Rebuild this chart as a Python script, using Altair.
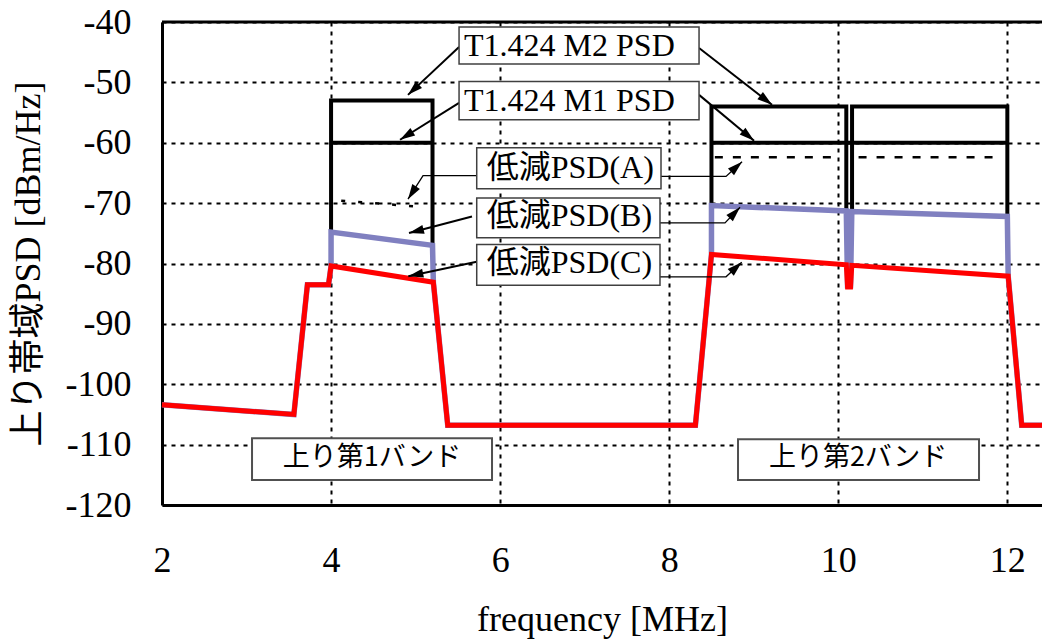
import math
import altair as alt
import pandas as pd

# ---------------- data ----------------
x_ticks = [2, 4, 6, 8, 10, 12]
y_ticks = [-120, -110, -100, -90, -80, -70, -60, -50, -40]

# 低減PSD(C)  (red)
c_freq = [2.0, 3.56, 3.72, 3.97, 4.0, 5.21, 5.38, 8.31, 8.5, 10.095, 10.11, 10.145, 10.16, 12.01, 12.17, 12.41]
c_psd = [-103.4, -105.0, -83.5, -83.5, -80.4, -83.1, -106.8, -106.8, -78.5, -80.2, -83.9, -83.9, -80.3, -82.1, -106.8, -106.8]

# 低減PSD(B)  (blue)
b_freq = [2.0, 3.56, 3.72, 3.97, 4.0, 4.0, 5.2, 5.21, 5.38, 8.31, 8.5, 8.5, 10.095, 10.11, 10.145, 10.16, 12.0, 12.01, 12.17, 12.41]
b_psd = [-103.4, -105.0, -83.5, -83.5, -80.4, -74.8, -77.0, -83.1, -106.8, -106.8, -78.5, -70.4, -71.3, -83.7, -83.7, -71.4, -72.2, -82.1, -106.8, -106.8]

# T1.424 M2 PSD (black)
m2_freq = [4.0, 4.0, 5.2, 5.2, 8.5, 8.5, 10.095, 10.095, 10.163, 10.163, 12.0, 12.0]
m2_psd = [-74.8, -53.0, -53.0, -77.0, -70.4, -54.0, -54.0, -71.3, -71.4, -54.0, -54.0, -72.2]
m2_seg = [0, 0, 0, 0, 1, 1, 1, 1, 2, 2, 2, 2]

# T1.424 M1 PSD (black)
m1_freq = [4.0, 5.2, 8.5, 12.0]
m1_psd = [-60.0, -60.0, -60.0, -60.0]
m1_seg = [0, 0, 1, 1]

# 低減PSD(A) (black dashed)
a1_freq = [4.12, 5.05]
a1_psd = [-69.6, -70.6]
a2_freq = [8.54, 9.94, 10.24, 11.86]
a2_psd = [-62.4, -62.4, -62.4, -62.4]
a2_seg = [0, 0, 1, 1]

# ---------------- layout ----------------
F_MIN, F_MAX = 2.0, 12.41
V_MIN, V_MAX = -120.0, -40.0
W, H = 880, 483
PX_F = W / (F_MAX - F_MIN)
PX_V = H / (V_MAX - V_MIN)

SERIF = "Liberation Serif, Noto Sans CJK JP"
SANS = "Noto Sans CJK JP"

# annotation geometry (in data units)
boxes = pd.DataFrame([
    dict(f=5.514, f2=8.353, v=-40.83, v2=-46.94),
    dict(f=5.514, f2=8.353, v=-49.87, v2=-56.20),
    dict(f=5.723, f2=7.903, v=-60.83, v2=-67.60),
    dict(f=5.723, f2=7.891, v=-69.14, v2=-75.75),
    dict(f=5.723, f2=7.891, v=-76.86, v2=-83.59),
])
band_boxes = pd.DataFrame([
    dict(f=3.065, f2=5.904, v=-108.93, v2=-115.87),
    dict(f=8.814, f2=11.665, v=-109.09, v2=-115.87),
])
labels = pd.DataFrame([
    dict(f=5.573, v=-45.62, label="T1.424 M2 PSD"),
    dict(f=5.573, v=-54.66, label="T1.424 M1 PSD"),
    dict(f=5.841, v=-65.84, label="低減PSD(A)"),
    dict(f=5.841, v=-73.83, label="低減PSD(B)"),
    dict(f=5.841, v=-81.65, label="低減PSD(C)"),
])
band_labels = pd.DataFrame([
    dict(f=4.484, v=-113.6, label="上り第1バンド"),
    dict(f=10.234, v=-113.6, label="上り第2バンド"),
])

arrows = [
    ("m2L", [(5.514, -44.13), (4.910, -52.07)], "thick"),
    ("m2R", [(8.353, -44.30), (9.216, -53.72)], "thick"),
    ("m1L", [(5.514, -53.39), (4.816, -59.50)], "thick"),
    ("m1R", [(8.353, -52.07), (9.004, -59.67)], "thick"),
    ("aL", [(5.727, -65.45), (5.088, -65.45), (4.910, -69.34)], "thin"),
    ("aR", [(7.903, -65.57), (8.672, -65.57), (8.862, -63.14)], "thin"),
    ("bL", [(5.667, -72.23), (4.922, -74.96)], "thick"),
    ("bR", [(7.891, -73.27), (8.660, -73.27), (8.838, -70.69)], "thin"),
    ("cL", [(5.723, -79.72), (4.914, -82.10)], "thick"),
    ("cR", [(7.891, -82.20), (8.672, -82.20), (8.858, -79.79)], "thin"),
]

arrow_rows, head_rows = [], []
HEAD_HALF = 7.5
for name, pts, w in arrows:
    for i, (f, v) in enumerate(pts):
        arrow_rows.append(dict(seg=name, i=i, f=f, v=v, w=w))
    (f0, v0), (f1, v1) = pts[-2], pts[-1]
    dx = (f1 - f0) * PX_F
    dy = -(v1 - v0) * PX_V
    n = math.hypot(dx, dy)
    ux, uy = dx / n, dy / n
    ang = math.degrees(math.atan2(ux, -uy)) % 360
    head_rows.append(dict(
        f=f1 - HEAD_HALF * ux / PX_F,
        v=v1 + HEAD_HALF * uy / PX_V,
        ang=ang,
    ))
arrow_df = pd.DataFrame(arrow_rows)
head_df = pd.DataFrame(head_rows)


def frame(fs, vs, segs=None):
    return pd.DataFrame({"f": fs, "v": vs,
                         "seg": segs if segs is not None else [0] * len(fs),
                         "i": list(range(len(fs)))})


x_enc = alt.X("f:Q",
              scale=alt.Scale(domain=[F_MIN, F_MAX], nice=False, zero=False),
              axis=alt.Axis(values=x_ticks, title="frequency [MHz]",
                            labelPadding=38, titlePadding=24, labelFlush=False,
                            labelExpr="'' + datum.value"))
y_enc = alt.Y("v:Q",
              scale=alt.Scale(domain=[V_MIN, V_MAX], nice=False, zero=False),
              axis=alt.Axis(values=y_ticks, title="上り帯域PSD [dBm/Hz]",
                            labelPadding=31, titlePadding=18, labelFlush=False,
                            labelExpr="'' + datum.value"))


def line_layer(df, color, width, dash=None):
    kw = dict(color=color, strokeWidth=width, strokeJoin="miter",
              strokeMiterLimit=3, strokeCap="butt")
    if dash:
        kw["strokeDash"] = dash
    return alt.Chart(df).mark_line(**kw).encode(
        x=x_enc, y=y_enc, detail="seg:N", order="i:Q")


m2_layer = line_layer(frame(m2_freq, m2_psd, m2_seg), "#000000", 4)
m1_layer = line_layer(frame(m1_freq, m1_psd, m1_seg), "#000000", 4)
a1_layer = line_layer(frame(a1_freq, a1_psd), "#000000", 2.5, [4, 13])
a2_layer = line_layer(frame(a2_freq, a2_psd, a2_seg), "#000000", 2.5, [8, 10])
b_layer = line_layer(frame(b_freq, b_psd), "#8080C0", 5.5)
c_layer = line_layer(frame(c_freq, c_psd), "#FF0000", 5)

top_border = alt.Chart(pd.DataFrame({"k": [0]})).mark_rule(
    color="black", strokeWidth=3).encode(
    x=alt.value(0), x2=alt.value(W), y=alt.value(0))

thick_arrows = alt.Chart(arrow_df[arrow_df.w == "thick"]).mark_line(
    color="black", strokeWidth=2).encode(x=x_enc, y=y_enc, detail="seg:N", order="i:Q")
thin_arrows = alt.Chart(arrow_df[arrow_df.w == "thin"]).mark_line(
    color="black", strokeWidth=1.3).encode(x=x_enc, y=y_enc, detail="seg:N", order="i:Q")

heads = alt.Chart(head_df).mark_point(
    shape="M0,-1L-0.6,1L0.6,1Z", filled=True, color="black", opacity=1,
    size=225, strokeWidth=0).encode(
    x=x_enc, y=y_enc, angle=alt.Angle("ang:Q", scale=None))

box_layer = alt.Chart(boxes).mark_rect(
    fill="white", stroke="#404040", strokeWidth=1.5).encode(
    x=x_enc, x2="f2:Q", y=y_enc, y2="v2:Q")
band_box_layer = alt.Chart(band_boxes).mark_rect(
    fill="white", stroke="#505050", strokeWidth=2).encode(
    x=x_enc, x2="f2:Q", y=y_enc, y2="v2:Q")

label_layer = alt.Chart(labels).mark_text(
    align="left", baseline="alphabetic", font=SERIF, fontSize=32,
    color="black").encode(x=x_enc, y=y_enc, text="label:N")
band_label_layer = alt.Chart(band_labels).mark_text(
    align="center", baseline="alphabetic", font=SANS, fontSize=27,
    color="black").encode(x=x_enc, y=y_enc, text="label:N")

chart = alt.layer(
    m2_layer, m1_layer, a1_layer, a2_layer, b_layer, c_layer,
    top_border, thick_arrows, thin_arrows,
    box_layer, band_box_layer, label_layer, band_label_layer, heads,
).properties(
    width=W, height=H,
    autosize=alt.AutoSizeParams(type="none"),
    padding={"left": 162, "top": 22, "right": 0, "bottom": 136},
    background="white",
).configure_view(
    stroke=None
).configure_axis(
    domainColor="black", domainWidth=3,
    grid=True, gridColor="black", gridDash=[4, 5], gridWidth=2, gridOpacity=1,
    ticks=False, tickSize=0,
    labelFont=SERIF, labelFontSize=36, labelColor="black",
    titleFont=SERIF, titleFontSize=36, titleColor="black",
    titleFontWeight="normal", labelOverlap=False,
)

chart.save("out.html", embed_options={"renderer": "svg", "actions": False})
